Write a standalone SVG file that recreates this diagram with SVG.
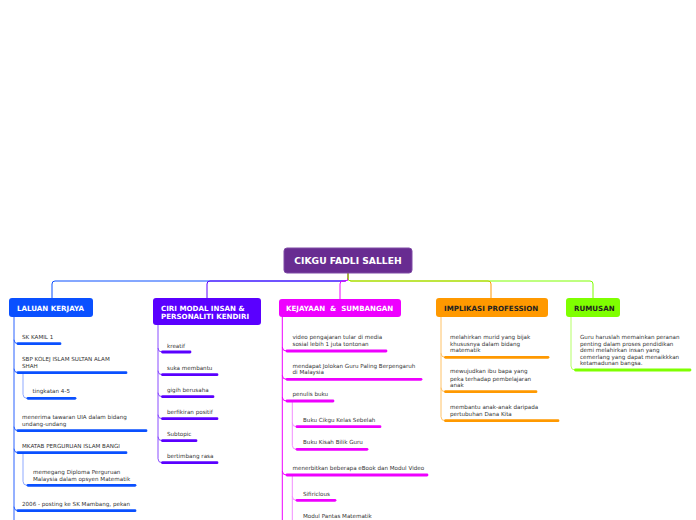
<svg xmlns="http://www.w3.org/2000/svg" width="696" height="520" viewBox="0 0 696 520">
<style>
.c{font-family:"DejaVu Sans","Liberation Sans",sans-serif;font-size:5.6px;fill:#333}
.t{font-family:"DejaVu Sans","Liberation Sans",sans-serif;font-size:7.1px;font-weight:bold;white-space:pre}
.w{fill:#fff}.d{fill:#222}
.u{fill:none;stroke-width:2.8;stroke-linecap:round}
.k{fill:none;stroke-width:1}
</style>
<rect width="696" height="520" fill="#fff"/>
<g id="connectors">
<path class="k" stroke="#0a50ff" d="M348,273 V278 Q348,281 345,281 H55 Q52,281 52,284 V298"/>
<path class="k" stroke="#5a00ff" d="M348,273 V278 Q348,281 345,281 H210 Q207,281 207,284 V298"/>
<path class="k" stroke="#ee00ff" d="M348,273 V278 Q348,281 345,281 H343 Q340,281 340,284 V299"/>
<path class="k" stroke="#ff9900" d="M348,273 V278 Q348,281 351,281 H488 Q491,281 491,284 V298"/>
<path class="k" stroke="#7fff00" d="M348,273 V278 Q348,281 351,281 H590 Q593,281 593,284 V298"/>
<g stroke="#2a63ff" class="k">
<path d="M14,317 V520"/>
<path d="M14,339.7 Q14,343.7 18,343.7"/>
<path d="M14,368.7 Q14,372.7 18,372.7"/>
<path d="M14,426.7 Q14,430.7 18,430.7"/>
<path d="M14,448.7 Q14,452.7 18,452.7"/>
<path d="M14,506.7 Q14,510.7 18,510.7"/>
</g>
<g stroke="#8fa9ff" class="k">
<path d="M23,372.7 V394.3 Q23,398.3 27,398.3"/>
<path d="M23,452.7 V481.3 Q23,485.3 27,485.3"/>
</g>
<g stroke="#8a4dff" class="k">
<path d="M158,325 V458.7 Q158,462.7 162,462.7"/>
<path d="M158,348 Q158,352 162,352"/>
<path d="M158,370.7 Q158,374.7 162,374.7"/>
<path d="M158,392.7 Q158,396.7 162,396.7"/>
<path d="M158,414.7 Q158,418.7 162,418.7"/>
<path d="M158,436.7 Q158,440.7 162,440.7"/>
</g>
<g stroke="#ee00ff" class="k">
<path d="M282.3,317 V520"/>
<path d="M282.3,347 Q282.3,351 286.3,351"/>
<path d="M282.3,375.3 Q282.3,379.3 286.3,379.3"/>
<path d="M282.3,397 Q282.3,401 286.3,401"/>
<path d="M282.3,471 Q282.3,475 286.3,475"/>
</g>
<g stroke="#f38cff" class="k">
<path d="M292.3,401 V445.3 Q292.3,449.3 296.3,449.3"/>
<path d="M292.3,422.7 Q292.3,426.7 296.3,426.7"/>
<path d="M292.3,475 V520"/>
<path d="M292.3,496.3 Q292.3,500.3 296.3,500.3"/>
</g>
<g stroke="#ffc266" class="k">
<path d="M441,317 V416.7 Q441,420.7 445,420.7"/>
<path d="M441,353.3 Q441,357.3 445,357.3"/>
<path d="M441,387.7 Q441,391.7 445,391.7"/>
</g>
<g stroke="#b5ff66" class="k">
<path d="M571,317 V366 Q571,370 575,370"/>
</g>
</g>
<g id="center">
<rect x="284" y="248" width="128" height="25" rx="3" fill="#682c91" stroke="#7f4aa5" stroke-width="1"/>
<text x="348" y="264.3" text-anchor="middle" class="t w" style="font-size:9.2px">CIKGU FADLI SALLEH</text>
</g>
<g id="laluan">
<rect x="9" y="298" width="84" height="19" rx="3" fill="#0a50ff"/>
<text x="17" y="310.5" class="t w">LALUAN KERJAYA</text>
</g>
<g id="ciri">
<rect x="153" y="298" width="108" height="27" rx="3" fill="#5a00ff"/>
<text x="161" y="311" class="t w">CIRI MODAL INSAN &amp;</text>
<text x="161" y="319" class="t w">PERSONALITI KENDIRI</text>
</g>
<g id="kejayaan">
<rect x="279" y="299" width="122" height="18" rx="3" fill="#ee00ff"/>
<text x="286" y="311" class="t w">KEJAYAAN  &amp;  SUMBANGAN</text>
</g>
<g id="implikasi">
<rect x="436" y="298" width="112" height="19" rx="3" fill="#ff9900"/>
<text x="444" y="310.5" class="t d">IMPLIKASI PROFESSION</text>
</g>
<g id="rumusan">
<rect x="566" y="298" width="54" height="19" rx="3" fill="#7fff00"/>
<text x="574" y="310.5" class="t d">RUMUSAN</text>
</g>
<g id="laluan-children" stroke="#0a50ff">
<g id="l1"><text class="c" stroke="none" x="22" y="338.7">SK KAMIL 1</text><path class="u" d="M18,343.7 H60"/></g>
<g id="l2"><text class="c" stroke="none" x="22" y="361">SBP KOLEJ ISLAM SULTAN ALAM</text><text class="c" stroke="none" x="22" y="367.7">SHAH</text><path class="u" d="M18,372.7 H126"/></g>
<g id="l3"><text class="c" stroke="none" x="32.5" y="393.3">tingkatan 4-5</text><path class="u" d="M28,398.3 H75"/></g>
<g id="l4"><text class="c" stroke="none" x="22" y="418.5">menerima tawaran UIA dalam bidang</text><text class="c" stroke="none" x="22" y="425.7">undang-undang</text><path class="u" d="M18,430.7 H146"/></g>
<g id="l5"><text class="c" stroke="none" x="22" y="447.7">MKATAB PERGURUAN ISLAM BANGI</text><path class="u" d="M18,452.7 H126"/></g>
<g id="l6"><text class="c" stroke="none" x="33" y="473.5">memegang Diploma Perguruan</text><text class="c" stroke="none" x="33" y="480.5">Malaysia dalam opsyen Matematik</text><path class="u" d="M28,485.3 H135"/></g>
<g id="l7"><text class="c" stroke="none" x="22" y="506">2006 - posting ke SK Mambang, pekan</text><path class="u" d="M18,510.7 H135"/></g>
</g>
<g id="ciri-children" stroke="#5a00ff">
<g id="c1"><text class="c" stroke="none" x="167" y="347.5">kreatif</text><path class="u" d="M162.5,352 H190"/></g>
<g id="c2"><text class="c" stroke="none" x="167" y="370">suka membantu</text><path class="u" d="M162.5,374.7 H217"/></g>
<g id="c3"><text class="c" stroke="none" x="167" y="392">gigih berusaha</text><path class="u" d="M162.5,396.7 H213"/></g>
<g id="c4"><text class="c" stroke="none" x="167" y="414">berfikiran positif</text><path class="u" d="M162.5,418.7 H217"/></g>
<g id="c5"><text class="c" stroke="none" x="167" y="436">Subtopic</text><path class="u" d="M162.5,440.7 H196"/></g>
<g id="c6"><text class="c" stroke="none" x="167" y="458">bertimbang rasa</text><path class="u" d="M162.5,462.7 H217"/></g>
</g>
<g id="kejayaan-children" stroke="#ee00ff">
<g id="k1"><text class="c" stroke="none" x="292.5" y="338.8">video pengajaran tular di media</text><text class="c" stroke="none" x="292.5" y="345.6">sosial lebih 1 juta tontonan</text><path class="u" d="M287,351 H386"/></g>
<g id="k2"><text class="c" stroke="none" x="292.5" y="367.8">mendapat Jolokan Guru Paling Berpengaruh</text><text class="c" stroke="none" x="292.5" y="374.2">di Malaysia</text><path class="u" d="M287,379.3 H421"/></g>
<g id="k3"><text class="c" stroke="none" x="292.5" y="396.2">penulis buku</text><path class="u" d="M287,401 H333"/></g>
<g id="k4"><text class="c" stroke="none" x="303" y="422">Buku Cikgu Kelas Sebelah</text><path class="u" d="M297,426.7 H380"/></g>
<g id="k5"><text class="c" stroke="none" x="303" y="444.3">Buku Kisah Bilik Guru</text><path class="u" d="M297,449.3 H367"/></g>
<g id="k6"><text class="c" stroke="none" x="292.5" y="470.2">menerbitkan beberapa eBook dan Modul Video</text><path class="u" d="M287,475 H427"/></g>
<g id="k7"><text class="c" stroke="none" x="303" y="496">Sifiriclous</text><path class="u" d="M297,500.3 H335"/></g>
<g id="k8"><text class="c" stroke="none" x="303" y="518">Modul Pantas Matematik</text></g>
</g>
<g id="implikasi-children" stroke="#ff9900">
<g id="i1"><text class="c" stroke="none" x="450" y="339">melahirkan murid yang bijak</text><text class="c" stroke="none" x="450" y="345.7">khususnya dalam bidang</text><text class="c" stroke="none" x="450" y="352.3">matematik</text><path class="u" d="M445.5,357.3 H548"/></g>
<g id="i2"><text class="c" stroke="none" x="450" y="373.3">mewujudkan ibu bapa yang</text><text class="c" stroke="none" x="450" y="380.5">peka terhadap pembelajaran</text><text class="c" stroke="none" x="450" y="386.9">anak</text><path class="u" d="M445.5,391.7 H536"/></g>
<g id="i3"><text class="c" stroke="none" x="450" y="409">membantu anak-anak daripada</text><text class="c" stroke="none" x="450" y="415.7">pertubuhan Dana Kita</text><path class="u" d="M445.5,420.7 H558"/></g>
</g>
<g id="rumusan-children" stroke="#7fff00">
<g id="r1"><text class="c" stroke="none" x="580" y="339">Guru haruslah memainkan peranan</text><text class="c" stroke="none" x="580" y="345.7">penting dalam proses pendidikan</text><text class="c" stroke="none" x="580" y="352.4">demi melahirkan insan yang</text><text class="c" stroke="none" x="580" y="359">cemerlang yang dapat menaikkkan</text><text class="c" stroke="none" x="580" y="365.2">ketamadunan bangsa.</text><path class="u" d="M575.5,370 H690"/></g>
</g>
</svg>
